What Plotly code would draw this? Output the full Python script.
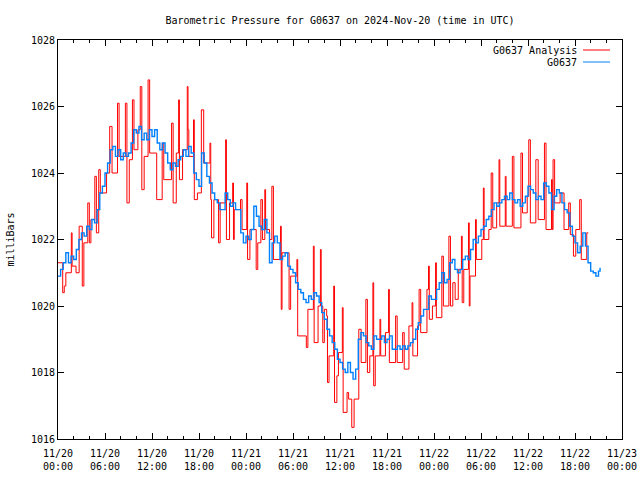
import pandas as pd
import plotly.graph_objects as go

# ---- Data (hours after 2024-11-20 00:00 UTC, pressure in mb) ----
red_hours = [0.0, 0.6, 0.8, 1.0, 1.7, 1.8, 2.3, 2.7, 3.1, 3.3, 3.8, 4.0, 4.2, 4.7, 4.9, 5.2, 5.4,
             6.2, 6.6, 6.9, 7.6, 7.8, 8.6, 8.8, 9.1, 9.5, 9.7, 10.2, 10.5, 10.7, 11.0, 11.5, 11.7,
             12.6, 13.3, 13.5, 14.5, 14.7, 15.1, 15.4, 15.5, 15.9, 16.5, 16.6, 16.7, 17.3, 17.4,
             17.8, 18.3, 18.6, 19.4, 19.5, 19.6, 19.9, 20.5, 20.7, 21.4, 21.5, 21.9, 22.3, 22.4,
             22.5, 23.3, 23.5, 24.1, 24.2, 24.5, 25.3, 25.5, 25.9, 26.1, 26.4, 26.5, 27.0, 27.3,
             27.5, 28.4, 28.5, 28.6, 29.5, 29.7, 30.5, 30.6, 31.7, 31.9, 32.6, 32.7, 33.2, 33.5,
             33.6, 33.8, 34.0, 34.3, 34.4, 34.6, 35.2, 35.3, 35.6, 35.8, 36.3, 36.4, 36.9, 37.1,
             37.5, 37.8, 38.4, 38.7, 39.3, 39.5, 39.8, 40.2, 40.3, 40.5, 41.1, 41.2, 41.8, 42.2,
             42.3, 43.1, 43.3, 44.0, 44.2, 44.8, 45.2, 45.3, 45.9, 46.1, 46.3, 47.1, 47.3, 47.4,
             47.8, 48.2, 48.3, 49.0, 49.2, 49.9, 50.1, 50.4, 50.7, 51.1, 51.5, 51.6, 51.8, 52.4,
             52.5, 52.6, 53.3, 53.4, 54.1, 54.3, 54.4, 55.0, 55.3, 55.5, 56.0, 56.3, 56.4, 57.1,
             57.2, 58.0, 58.2, 59.1, 59.3, 59.9, 60.1, 60.3, 61.0, 61.3, 62.1, 62.3, 63.0, 63.1,
             63.2, 63.4, 64.1, 64.6, 65.2, 65.4, 65.8, 66.1, 66.6, 66.8, 67.5, 67.7]
red_values = [1021.3, 1020.4, 1020.6, 1021.0, 1022.2, 1021.2, 1021.0, 1022.4, 1020.6, 1021.9, 1023.1,
              1021.9, 1022.6, 1023.9, 1022.2, 1024.1, 1023.4, 1024.0, 1025.4, 1024.0, 1026.1, 1024.5,
              1026.1, 1023.1, 1024.4, 1026.2, 1024.7, 1025.3, 1026.6, 1023.5, 1024.5, 1026.8, 1024.6,
              1023.2, 1024.9, 1023.8, 1025.5, 1023.1, 1024.6, 1026.2, 1023.8, 1024.7, 1026.6, 1025.3,
              1024.5, 1025.6, 1023.2, 1023.4, 1025.9, 1024.3, 1024.9, 1023.2, 1022.05, 1023.2, 1021.9,
              1023.1, 1025.0, 1022.0, 1023.1, 1023.7, 1022.0, 1022.9, 1023.2, 1022.3, 1023.7, 1021.4,
              1022.3, 1021.1, 1021.9, 1023.2, 1022.0, 1023.5, 1022.3, 1022.0, 1023.6, 1021.4, 1022.4,
              1019.9, 1021.6, 1019.9, 1020.9, 1021.4, 1019.1, 1018.75, 1019.9, 1021.8, 1018.9, 1020.0,
              1021.7, 1020.0, 1018.9, 1019.9, 1019.7, 1017.7, 1018.5, 1020.6, 1017.1, 1017.9, 1018.6,
              1019.95, 1016.8, 1017.4, 1017.2, 1016.35, 1017.2, 1019.3, 1018.3, 1020.2, 1018.0, 1018.5,
              1020.7, 1017.6, 1018.5, 1019.6, 1018.5, 1019.2, 1020.5, 1018.3, 1019.7, 1018.3, 1019.2,
              1018.1, 1019.4, 1020.1, 1018.5, 1019.4, 1020.5, 1019.2, 1020.5, 1021.2, 1019.6, 1020.0,
              1021.3, 1019.65, 1021.5, 1020.0, 1022.1, 1020.0, 1020.7, 1020.2, 1021.1, 1022.1, 1020.1,
              1021.1, 1022.5, 1020.0, 1020.9, 1022.6, 1021.4, 1022.0, 1023.55, 1022.0, 1022.3, 1024.0,
              1022.35, 1023.1, 1024.4, 1022.4, 1023.9, 1022.4, 1024.5, 1022.35, 1024.6, 1022.8, 1023.3,
              1025.0, 1022.5, 1024.4, 1022.6, 1024.9, 1022.3, 1023.8, 1022.3, 1024.4, 1023.1, 1023.4,
              1022.3, 1023.1, 1022.15, 1021.5, 1022.3, 1023.2, 1021.4, 1022.2, 1022.2]

blue_hours = [i / 3 for i in range(208)] + [69.2]
blue_values = [
    1020.9, 1021.1, 1021.3, 1021.6, 1021.3, 1021.5, 1021.4, 1021.7, 1022.0,
    1022.2, 1022.1, 1022.4, 1022.3, 1022.6, 1022.5, 1022.9, 1023.4, 1023.6,
    1024.0, 1024.3, 1024.7, 1024.8, 1024.5, 1024.7, 1024.4, 1024.6, 1024.5,
    1024.6, 1024.9, 1025.3, 1025.2, 1025.4, 1025.0, 1025.2, 1025.0, 1025.3,
    1025.1, 1025.3, 1024.9, 1024.7, 1024.9, 1024.6, 1024.3, 1024.1, 1024.3,
    1024.2, 1024.4, 1024.5, 1024.7, 1024.5, 1024.8, 1024.6, 1024.0, 1023.8,
    1023.6, 1024.6, 1024.3, 1023.9, 1023.7, 1023.4, 1023.2, 1023.1, 1022.9,
    1022.9, 1023.4, 1023.2, 1023.0, 1023.1, 1022.9, 1022.9, 1022.2, 1021.9,
    1022.1, 1022.0, 1022.3, 1023.0, 1022.7, 1022.4, 1022.3, 1022.6, 1022.2,
    1021.3, 1021.9, 1022.1, 1021.9, 1021.4, 1021.5, 1021.6, 1021.2, 1021.1,
    1021.0, 1020.7, 1020.5, 1020.4, 1020.2, 1020.1, 1020.3, 1020.2, 1020.4,
    1020.3, 1020.1, 1019.8, 1019.6, 1019.3, 1019.1, 1018.9, 1018.7, 1018.4,
    1018.3, 1018.1, 1018.0, 1018.3, 1018.0, 1017.8, 1018.1, 1019.0, 1019.2,
    1019.1, 1018.9, 1018.8, 1018.7, 1019.1, 1019.0, 1019.0, 1019.1, 1018.9,
    1019.0, 1019.1, 1018.7, 1018.7, 1018.8, 1018.7, 1018.8, 1018.7, 1018.8,
    1018.9, 1019.0, 1019.3, 1019.5, 1019.7, 1019.9, 1019.9, 1020.3, 1020.2,
    1020.2, 1020.5, 1020.7, 1021.0, 1020.7, 1020.8, 1021.3, 1021.4, 1021.1,
    1021.0, 1021.1, 1021.4, 1021.5, 1021.4, 1021.7, 1022.0, 1021.9, 1022.1,
    1022.3, 1022.4, 1022.6, 1022.7, 1022.9, 1023.1, 1023.0, 1023.1, 1023.2,
    1023.3, 1023.2, 1023.4, 1023.2, 1023.1, 1023.2, 1023.0, 1023.1, 1023.3,
    1023.6, 1023.5, 1023.4, 1023.2, 1023.3, 1023.2, 1023.7, 1023.6, 1023.4,
    1022.9, 1023.3, 1023.5, 1023.4, 1023.1, 1022.9, 1022.8, 1022.4, 1022.1,
    1021.9, 1021.6, 1021.8, 1022.2, 1021.8, 1021.3, 1021.05, 1021.0, 1020.9,
    1021.05, 1021.15]

y_ticks = [1016, 1018, 1020, 1022, 1024, 1026, 1028]
base = pd.Timestamp("2024-11-20 00:00")
red_x = base + pd.to_timedelta(red_hours, unit="h")
blue_x = base + pd.to_timedelta(blue_hours, unit="h")

FONT = "DejaVu Sans Mono"
RED = "#ff0000"
BLUE = "#0080ff"

# plot box at x 58-622, y 40-439 of a 640x480 page (body margin removed below)
W, H = 640, 480
ML, MT, MR, MB = 58, 40, 18, 41

fig = go.Figure()
fig.add_trace(go.Scatter(x=red_x, y=red_values, mode="lines", line=dict(color=RED, width=1, shape="hv"),
                         name="G0637 Analysis", showlegend=False))
fig.add_trace(go.Scatter(x=blue_x, y=blue_values, mode="lines", line=dict(color=BLUE, width=1.4, shape="hv"),
                         name="G0637", showlegend=False))

# legend drawn gnuplot-style (text then sample line)
for i, (label, col) in enumerate([("G0637 Analysis", RED), ("G0637", BLUE)]):
    ypx = 50 + 12 * i
    yp = (439 - ypx) / 399
    fig.add_annotation(xref="paper", yref="paper", x=(579 - 58) / 564, y=yp, text=label,
                       showarrow=False, xanchor="right", yanchor="middle",
                       font=dict(family=FONT, size=10, color="black"))
    fig.add_shape(type="line", xref="paper", yref="paper", x0=(583 - 58) / 564, x1=(610 - 58) / 564,
                  y0=yp, y1=yp, line=dict(color=col, width=1))

fig.update_layout(
    width=W, height=H,
    margin=dict(l=ML, r=MR, t=MT, b=MB, autoexpand=False),
    paper_bgcolor="white", plot_bgcolor="white",
    font=dict(family=FONT, size=10, color="black"),
    title=dict(text="Barometric Pressure for G0637 on 2024-Nov-20 (time in UTC)",
               x=340 / W, xanchor="center",
               y=1 - 20 / H, yanchor="middle", font=dict(family=FONT, size=10)),
)
fig.update_xaxes(
    type="date", range=[base, base + pd.Timedelta(hours=72)],
    dtick=6 * 3600 * 1000, tick0=base, tickformat="%m/%d<br>%H:%M",
    ticks="inside", ticklen=6, tickcolor="black", showline=True, linecolor="black", linewidth=1,
    mirror="ticks", showgrid=False, zeroline=False, automargin=False, ticklabelstandoff=5,
    ticklabeloverflow="allow",
    minor=dict(dtick=2 * 3600 * 1000, ticks="inside", ticklen=3, tickcolor="black", showgrid=False),
    tickfont=dict(family=FONT, size=10),
)
fig.update_yaxes(
    range=[1016, 1028], tickvals=y_ticks, ticks="inside", ticklen=6, tickcolor="black",
    showline=True, linecolor="black", linewidth=1, mirror="ticks", showgrid=False, zeroline=False,
    automargin=False,
    title=dict(text="milliBars", font=dict(family=FONT, size=10), standoff=14),
    tickfont=dict(family=FONT, size=10),
)

fig.write_html("out.html", config={"displayModeBar": False, "staticPlot": True},
               post_script="document.body.style.margin='0';document.body.style.overflow='hidden';")
